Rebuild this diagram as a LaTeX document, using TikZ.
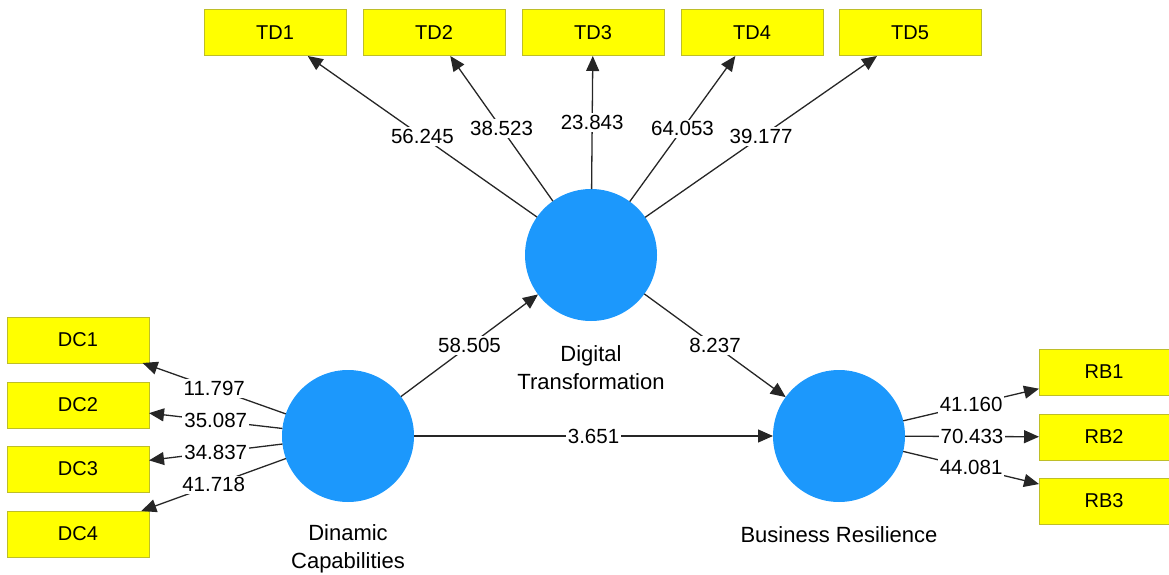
\documentclass[tikz,border=0pt]{standalone}
\usepackage{fontspec}
\setmainfont{Liberation Sans}
\usetikzlibrary{arrows.meta}
\definecolor{latent}{RGB}{28,152,252}
\definecolor{indfill}{RGB}{255,255,0}
\definecolor{indline}{RGB}{190,190,40}
\tikzset{
  x=1pt, y=-1pt,
  latentvar/.style={circle, fill=latent, draw=none, minimum size=132pt, inner sep=0pt, outer sep=0pt},
  indicator/.style={rectangle, fill=indfill, draw=indline, line width=1pt, minimum width=142pt, minimum height=46pt, inner sep=0pt, outer sep=0pt, font=\fontsize{20}{22}\selectfont},
  link/.style={draw=black!85, line width=1.3pt, -{Triangle[length=15pt,width=13pt]}},
  coef/.style={fill=white, inner sep=2pt, font=\fontsize{20.5}{22}\selectfont, text=black},
  caption/.style={align=center, font=\fontsize{22}{28}\selectfont}
}
\begin{document}
\begin{tikzpicture}
\useasboundingbox (0,0) rectangle (1169,575);
\clip (0,0) rectangle (1169,575);

% latent variables
\node[latentvar] (dt) at (591,255) {};
\node[latentvar] (dc) at (348,436) {};
\node[latentvar] (br) at (839,436) {};

\node[caption] (dtlab) at (591,368) {Digital\\Transformation};
\node[caption] (dclab) at (348,549) {Dinamic\\Capabilities};
\node[caption] (brlab) at (839,535) {Business Resilience};

% indicators of Digital Transformation
\node[indicator] (td1) at (275,33) {TD1};
\node[indicator] (td2) at (434,33) {TD2};
\node[indicator] (td3) at (593,33) {TD3};
\node[indicator] (td4) at (752,33) {TD4};
\node[indicator] (td5) at (910,33) {TD5};

% indicators of Dinamic Capabilities
\node[indicator] (dc1) at (78,340) {DC1};
\node[indicator] (dc2) at (78,405) {DC2};
\node[indicator] (dc3) at (78,469) {DC3};
\node[indicator] (dc4) at (78,534) {DC4};

% indicators of Business Resilience (cut by the right edge)
\node[indicator] (rb1) at (1110,372) {};
\node[indicator] (rb2) at (1110,437) {};
\node[indicator] (rb3) at (1110,501) {};
\node[font=\fontsize{20}{22}\selectfont] (rb1t) at (1104,372) {RB1};
\node[font=\fontsize{20}{22}\selectfont] (rb2t) at (1104,437) {RB2};
\node[font=\fontsize{20}{22}\selectfont] (rb3t) at (1104,501) {RB3};

% outer loadings
\draw[link] (dt) -- node[coef] {56.245} (td1);
\draw[link] (dt) -- node[coef] {38.523} (td2);
\draw[link] (dt) -- node[coef] {23.843} (td3);
\draw[link] (dt) -- node[coef] {64.053} (td4);
\draw[link] (dt) -- node[coef] {39.177} (td5);

\draw[link] (dc) -- node[coef] {11.797} (dc1);
\draw[link] (dc) -- node[coef] {35.087} (dc2);
\draw[link] (dc) -- node[coef] {34.837} (dc3);
\draw[link] (dc) -- node[coef] {41.718} (dc4);

\draw[link] (br) -- node[coef] {41.160} (rb1);
\draw[link] (br) -- node[coef] {70.433} (rb2);
\draw[link] (br) -- node[coef] {44.081} (rb3);

% structural paths
\draw[link] (dc) -- node[coef] {58.505} (dt);
\draw[link] (dt) -- node[coef] {8.237} (br);
\draw[link] (dc) -- node[coef] {3.651} (br);
\end{tikzpicture}
\end{document}
